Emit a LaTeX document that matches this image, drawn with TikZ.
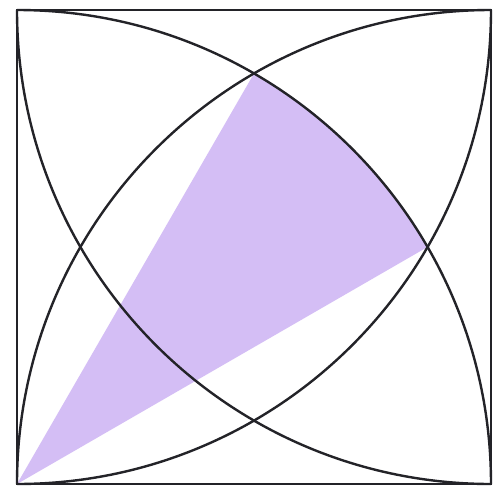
\documentclass[tikz,border=0pt]{standalone}
\usetikzlibrary{calc}
\begin{document}
\begin{tikzpicture}[x=1pt,y=-1pt,
  edge/.style={line width=2.4pt,draw={rgb,255:red,35;green,35;blue,40}},
  shade/.style={fill={rgb,255:red,212;green,190;blue,245}}]
\useasboundingbox (0,0) rectangle (504,491);
\fill[white] (0,0) rectangle (504,491);
\def\s{474}
\coordinate (BL) at (17,484);
\coordinate (BR) at (491,484);
\coordinate (TL) at (17,10);
\coordinate (TR) at (491,10);
% shaded 30-degree sector centred at BL
\path[shade] (BL) -- ($(BL)+(-60:\s)$) arc[start angle=-60,end angle=-30,radius=\s] -- cycle;
% square
\draw[edge] (TL) rectangle (BR);
% quarter circles
\draw[edge] (TL) arc[start angle=-90,end angle=0,radius=\s];
\draw[edge] (BL) arc[start angle=180,end angle=270,radius=\s];
\draw[edge] (TR) arc[start angle=0,end angle=90,radius=\s];
\draw[edge] (TL) arc[start angle=180,end angle=90,radius=\s];
\end{tikzpicture}
\end{document}
